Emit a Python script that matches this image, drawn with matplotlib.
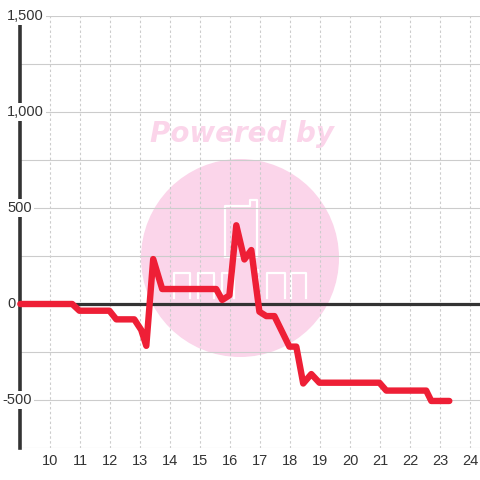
import matplotlib
matplotlib.use("Agg")
import matplotlib.pyplot as plt
import matplotlib.transforms as mtransforms
from matplotlib.patches import Circle
import numpy as np

# ---- data ----
hours = [9.0, 10.73, 10.97, 11.97, 12.2, 12.8, 13.03, 13.2, 13.43, 13.73,
         15.53, 15.73, 15.97, 16.2, 16.47, 16.7, 16.97, 17.2, 17.47, 17.97,
         18.2, 18.43, 18.7, 18.97, 20.97, 21.2, 22.53, 22.7, 23.3]
values = [0, 0, -35, -35, -80, -80, -135, -218, 234, 78,
          78, 21, 45, 410, 232, 281, -40, -63, -63, -222,
          -222, -414, -365, -410, -410, -451, -451, -505, -505]

x_ticks = list(range(10, 25))
y_grid = list(range(-750, 1501, 250))
y_label_vals = [1500, 1000, 500, 0, -500]
y_label_txt = ["1,500", "1,000", "500", "0", "-500"]

# ---- style ----
RED = "#ee1f36"
DARK = "#333333"
GRID = "#cccccc"
PINK = "#fbd5ea"

plt.rcParams["font.family"] = ["Liberation Sans", "DejaVu Sans"]

fig = plt.figure(figsize=(4.8, 4.8), dpi=100)
fig.patch.set_facecolor("white")

# watermark layer (pixel coordinates)
wm = fig.add_axes([0, 0, 1, 1], zorder=-1)
wm.set_xlim(0, 480)
wm.set_ylim(480, 0)
wm.axis("off")
wm.add_patch(Circle((240, 258), 99, color=PINK, lw=0))
wm.text(242, 134, "Powered by", ha="center", va="center", fontsize=20,
        fontweight="bold", fontstyle="italic", family="DejaVu Sans", color=PINK)
# rough logo outlines
wm.plot([225, 225, 250, 250, 257, 257, 225], [257, 206, 206, 200, 200, 257, 257],
        color="white", lw=1.6)
for x0, x1 in [(174, 190), (198, 214), (222, 234), (267, 285), (291, 306)]:
    wm.plot([x0, x0, x1, x1], [298, 273, 273, 298], color="white", lw=1.6)
wm.plot([258, 258], [278, 298], color="white", lw=1.6)
wm.plot([258, 258], [270, 272], color="white", lw=1.6)

# main axes
ax = fig.add_axes([20.3 / 480, 32 / 480, (480 - 20.3) / 480, 432 / 480])
ax.patch.set_alpha(0)
ax.set_xlim(9, 9 + (480 - 20.3) / 30)
ax.set_ylim(-750, 1500)

for s in ["top", "right", "bottom"]:
    ax.spines[s].set_visible(False)
ax.spines["left"].set_color(DARK)
ax.spines["left"].set_linewidth(2.6)
ax.spines["left"].set_zorder(2.5)

ax.set_yticks(y_grid)
ax.set_yticklabels([])
ax.set_xticks(x_ticks)
ax.set_xticklabels([str(t) for t in x_ticks])
ax.tick_params(axis="both", length=0)
ax.tick_params(axis="x", pad=4.5, labelsize=10.5, labelcolor=DARK)
ax.grid(axis="y", color=GRID, lw=0.8, zorder=1)
ax.grid(axis="x", color=GRID, lw=0.8, linestyle=(0, (2.2, 2.2)), zorder=1)
ax.set_axisbelow(True)

ax.axhline(0, color=DARK, lw=2.3, zorder=3)

ax.plot(hours, values, color=RED, lw=4.6, solid_joinstyle="round",
        solid_capstyle="round", zorder=4, clip_on=False)

ytrans = ax.get_yaxis_transform()
for v, t in zip(y_label_vals, y_label_txt):
    shift = -13.3 / 100 - (0.046 if t.startswith("-") else 0)
    tr = ytrans + mtransforms.ScaledTranslation(shift, 0, fig.dpi_scale_trans)
    ax.text(0, v, t, transform=tr, ha="left", va="center", fontsize=10.5,
            color=DARK, zorder=5,
            bbox=dict(boxstyle="square,pad=0.15", fc="white", ec="none"))

fig.savefig("out.png", dpi=100)
